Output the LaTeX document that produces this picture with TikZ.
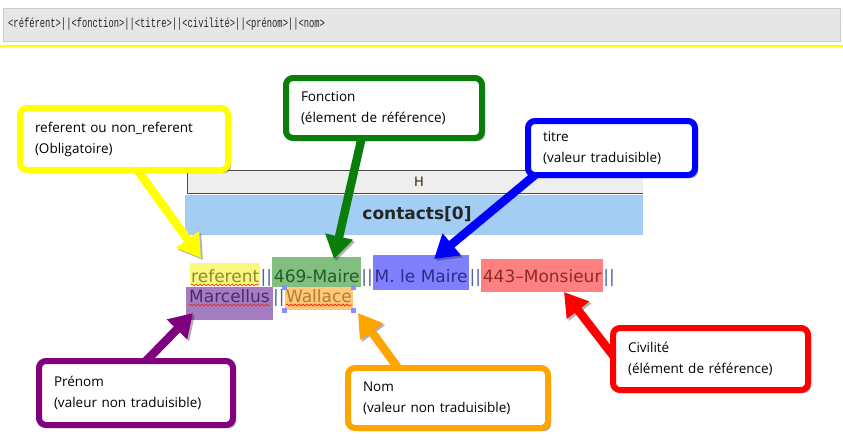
\documentclass[tikz,border=0pt]{standalone}
\usepackage{fontspec}
\setmainfont{Open Sans}
\newfontfamily\dvs{DejaVu Sans}
\newfontfamily\lmono{Liberation Mono}
\usetikzlibrary{arrows.meta,shadows,decorations.pathmorphing,calc}
\definecolor{cY}{HTML}{FFFF00}
\definecolor{cG}{HTML}{0A7D0A}
\definecolor{cB}{HTML}{0000FF}
\definecolor{cPu}{HTML}{800080}
\definecolor{cO}{HTML}{FFA500}
\definecolor{cR}{HTML}{FF0000}
\definecolor{hlY}{HTML}{FBF87E}
\definecolor{hlG}{HTML}{80BF80}
\definecolor{hlB}{HTML}{8080FF}
\definecolor{hlR}{HTML}{FF8080}
\definecolor{hlPu}{HTML}{A47DC0}
\definecolor{hlO}{HTML}{FFC87A}
\definecolor{tY}{HTML}{8A8A3A}
\definecolor{tPipe}{HTML}{5060A0}
\definecolor{tG}{HTML}{225F22}
\definecolor{tB}{HTML}{2C2C88}
\definecolor{tR}{HTML}{8E2A2A}
\definecolor{tPu}{HTML}{4A2A70}
\definecolor{tO}{HTML}{B87A30}
\definecolor{barfill}{HTML}{E6E6E6}
\definecolor{hdrfill}{HTML}{EEEEEE}
\definecolor{bandfill}{HTML}{A3CDF3}
\begin{document}
\begin{tikzpicture}[x=1pt,y=-1pt,
  callout/.style={draw=#1, line width=6pt, rounded corners=7pt, fill=white,
    anchor=north west, inner xsep=15pt, inner ysep=0pt, align=left,
    font=\fontsize{13.5}{21}\selectfont,
    drop shadow={shadow xshift=3pt, shadow yshift=-3pt, opacity=.45, fill=black!80}},
  arr/.style={draw=#1, line width=8.5pt, -{Triangle[width=27pt,length=23pt]},
    preaction={draw=black, opacity=.3, transform canvas={shift={(2pt,-2pt)}}}},
  seg/.style={anchor=base west, inner sep=0pt, font=\dvs\fontsize{17}{20}\selectfont},
  wavy/.style={draw=red!80!orange, line width=.6pt, decorate,
    decoration={snake, segment length=4pt, amplitude=1pt}},
  sel/.style={fill=blue!45!white}
]
\useasboundingbox (0,0) rectangle (843,439);
% top bar
\draw[draw=black!20, fill=barfill] (3,8) rectangle (840,41);
\node[anchor=west, inner sep=0pt, font=\lmono\fontsize{8.8}{10}\selectfont, text=black!85] (code) at (8,24)
  {\scalebox{1}[1.5]{<référent>||<fonction>||<titre>||<civilité>||<prénom>||<nom>}};
\draw[cY, line width=2pt] (0,46) -- (843,46);
% table
\fill[hdrfill] (187,170) rectangle (643,193);
\draw[black!70, line width=1pt] (187,170) -- (643,170);
\draw[black!70, line width=1pt] (187,193) -- (643,193);
\draw[black!70, line width=1pt] (187,170) -- (187,193);
\fill[bandfill] (185,195) rectangle (643,235);
\node[font=\dvs\fontsize{13}{15}\selectfont, text=black!70!brown] (hcell) at (419,182) {H};
\node[font=\dvs\bfseries\fontsize{17}{20}\selectfont, text=black!85] (contacts) at (417,214) {contacts[0]};
% line 1
\node[seg, fill=hlY, text height=19pt, text depth=3pt, text=tY, inner xsep=1pt] (s1) at (190,282) {referent};
\node[seg, text=tPipe] (p1) at (s1.base east) {||};
\node[seg, fill=hlG, text height=25pt, text depth=5pt, text=tG, inner xsep=1.5pt] (s2) at (p1.base east) {469-Maire};
\node[seg, text=tPipe] (p2) at (s2.base east) {||};
\node[seg, fill=hlB, text height=27pt, text depth=8pt, text=tB, inner xsep=1.5pt] (s3) at (p2.base east) {M. le Maire};
\node[seg, text=tPipe] (p3) at (s3.base east) {||};
\node[seg, fill=hlR, text height=23pt, text depth=10pt, text=tR, inner xsep=1.5pt] (s4) at (p3.base east) {443–Monsieur};
\node[seg, text=tPipe] (p4) at (s4.base east) {||};
% line 2
\node[seg, fill=hlPu, text height=15pt, text depth=18pt, text=tPu, inner xsep=3pt] (s5) at (186,302) {Marcellus};
\node[seg, text=tPipe] (p5) at (s5.base east) {||};
\node[seg, fill=hlO, text height=15pt, text depth=8pt, text=tO, inner xsep=1pt] (s6) at (p5.base east) {Wallace};
% spell-check underlines
\draw[wavy] ($(s1.base west)+(1,3)$) -- ($(s1.base east)+(-1,3)$);
\draw[wavy] ($(s5.base west)+(3,3)$) -- ($(s5.base east)+(-3,3)$);
\draw[wavy] ($(s6.base west)+(1,3)$) -- ($(s6.base east)+(-1,3)$);
% selection handles
\fill[sel] ($(s6.north west)+(-3,-2)$) rectangle +(5,5);
\fill[sel] ($(s6.north east)+(-2,-2)$) rectangle +(5,5);
\fill[sel] ($(s6.south west)+(-3,-2)$) rectangle +(5,5);
\fill[sel] ($(s6.south east)+(-2,-2)$) rectangle +(5,5);
% arrow anchors
\coordinate (aY0) at (133,164);  \coordinate (aY1) at (201,258);
\coordinate (aG0) at (363,132);  \coordinate (aG1) at (334,259);
\coordinate (aB0) at (541,170);  \coordinate (aB1) at (434,259);
\coordinate (aP0) at (145,362);  \coordinate (aP1) at (193,313);
\coordinate (aO0) at (398,368);  \coordinate (aO1) at (358,313);
\coordinate (aR0) at (615,358);  \coordinate (aR1) at (564,292);
\draw[arr=cY] (aY0) -- (aY1);
\draw[arr=cG] (aG0) -- (aG1);
\draw[arr=cB] (aB0) -- (aB1);
\draw[arr=cPu] (aP0) -- (aP1);
\draw[arr=cO] (aO0) -- (aO1);
\draw[arr=cR] (aR0) -- (aR1);
% callouts
\node[callout=cY, minimum width=208pt, minimum height=62pt, text width=178pt] (bY) at (17,105)
  {referent ou non\_referent\\(Obligatoire)};
\node[callout=cG, minimum width=196pt, minimum height=60pt, text width=166pt] (bG) at (283,75)
  {Fonction\\(élement de référence)};
\node[callout=cB, minimum width=167pt, minimum height=54pt, text width=137pt] (bB) at (525,118)
  {titre\\(valeur traduisible)};
\node[callout=cPu, minimum width=194pt, minimum height=64pt, text width=164pt] (bP) at (36,358)
  {Prénom\\(valeur non traduisible)};
\node[callout=cO, minimum width=200pt, minimum height=60pt, text width=170pt] (bO) at (345,365)
  {Nom\\(valeur non traduisible)};
\node[callout=cR, minimum width=195pt, minimum height=62pt, text width=165pt] (bR) at (610,325)
  {Civilité\\(élément de référence)};
\end{tikzpicture}
\end{document}
